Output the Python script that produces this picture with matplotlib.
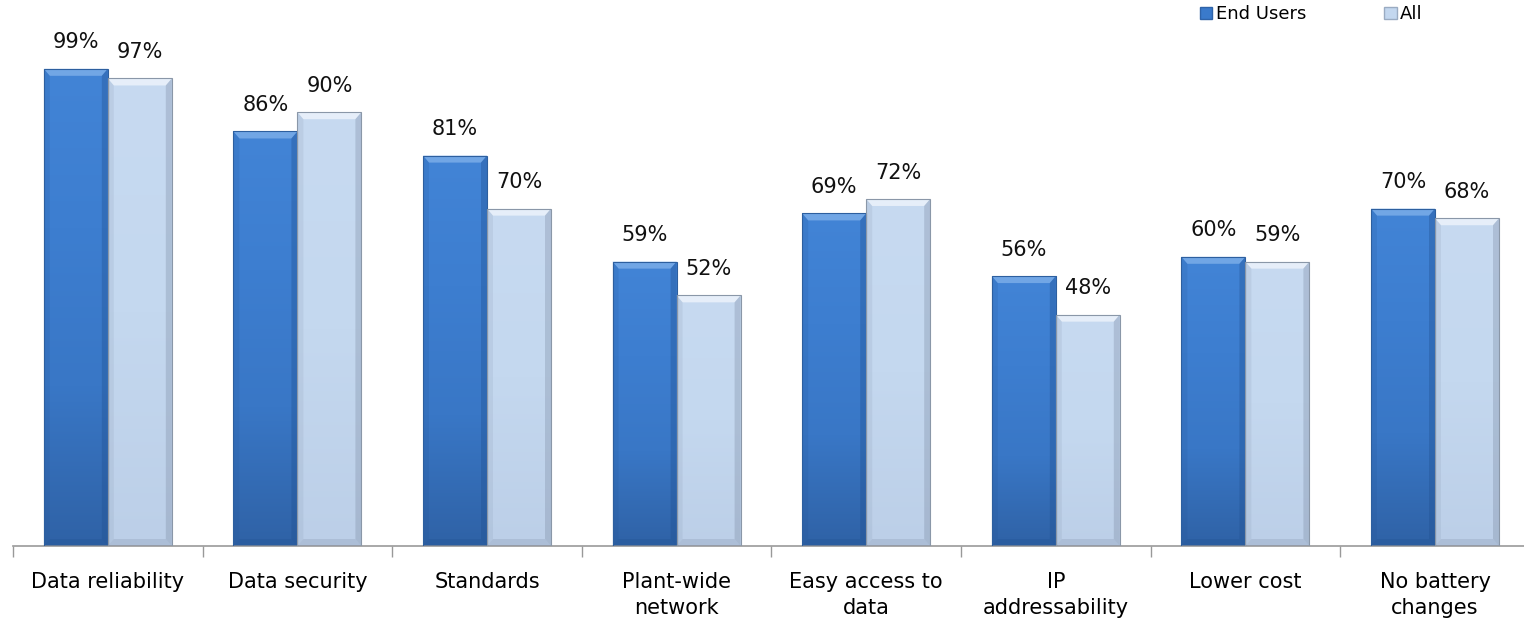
import numpy as np
import matplotlib.pyplot as plt
from matplotlib.patches import Patch, Polygon
from matplotlib.colors import LinearSegmentedColormap

categories = ["Data reliability", "Data security", "Standards", "Plant-wide\nnetwork",
              "Easy access to\ndata", "IP\naddressability", "Lower cost", "No battery\nchanges"]
end_users = [99, 86, 81, 59, 69, 56, 60, 70]
all_resp = [97, 90, 70, 52, 72, 48, 59, 68]

W, H = 1524, 624
fig = plt.figure(figsize=(W / 100, H / 100), dpi=100)
# axes: baseline at y=546px, 189.6px per category starting at x=13
ax = fig.add_axes([13 / W, (H - 546) / H, 8 * 189.6 / W, 546 / H])
ax.set_xlim(-0.5, 7.5)
ax.set_ylim(0, 546 / 4.82)

x = np.arange(len(categories))
bw = 64 / 189.6

dark_cmap = LinearSegmentedColormap.from_list("d", ["#2f62a6", "#3977c6", "#3d7ed0", "#4284d6"])
light_cmap = LinearSegmentedColormap.from_list("l", ["#bccfe8", "#c4d8ef", "#c7daf1"])

b1 = ax.bar(x - bw / 2, end_users, bw, color="none", edgecolor="none")
b2 = ax.bar(x + bw / 2, all_resp, bw, color="none", edgecolor="none")

grad = np.linspace(0, 1, 256).reshape(-1, 1)
bx = 6 / 189.6   # bevel width in data units
by = 7 / 4.82    # bevel height in data units


def shade(bars, cmap, hi, side, edge):
    for p in bars:
        x0, y0 = p.get_x(), p.get_y()
        w, h = p.get_width(), p.get_height()
        im = ax.imshow(grad, cmap=cmap, origin="lower", aspect="auto",
                       extent=[x0, x0 + w, y0, y0 + h], zorder=2)
        im.set_clip_path(p)
        # top bevel
        ax.add_patch(Polygon([[x0, h], [x0 + w, h], [x0 + w - bx, h - by], [x0 + bx, h - by]],
                             closed=True, facecolor=hi, edgecolor="none", alpha=0.7, zorder=3))
        # bottom bevel
        ax.add_patch(Polygon([[x0, 0], [x0 + w, 0], [x0 + w - bx, by], [x0 + bx, by]],
                             closed=True, facecolor=side, edgecolor="none", alpha=0.25, zorder=3))
        # side bevels
        ax.add_patch(Polygon([[x0 + w, h], [x0 + w, 0], [x0 + w - bx, by], [x0 + w - bx, h - by]],
                             closed=True, facecolor=side, edgecolor="none", alpha=0.35, zorder=3))
        ax.add_patch(Polygon([[x0, h], [x0, 0], [x0 + bx, by], [x0 + bx, h - by]],
                             closed=True, facecolor=side, edgecolor="none", alpha=0.15, zorder=3))
        ax.add_patch(plt.Rectangle((x0, 0), w, h, facecolor="none", edgecolor=edge,
                                   linewidth=0.8, zorder=4))


shade(b1, dark_cmap, "#86b5ec", "#1f4f8f", "#2d5f9f")
shade(b2, light_cmap, "#f4f8fd", "#7f8ea6", "#8a97a8")

for xi, v in zip(x, end_users):
    ax.text(xi - bw / 2, v + 3.4, f"{v}%", ha="center", va="bottom", fontsize=15, color="#111111")
for xi, v in zip(x, all_resp):
    ax.text(xi + bw / 2, v + 3.4, f"{v}%", ha="center", va="bottom", fontsize=15, color="#111111")

ax.set_xticks(x)
ax.set_xticklabels(categories, fontsize=15, linespacing=1.35)
ax.tick_params(axis="x", which="major", length=0, pad=19)
ax.set_xticks(np.arange(-0.5, 8, 1), minor=True)
ax.tick_params(axis="x", which="minor", length=8, color="#999999", width=1)
ax.set_yticks([])
for s in ["top", "right", "left"]:
    ax.spines[s].set_visible(False)
ax.spines["bottom"].set_color("#999999")
ax.spines["bottom"].set_linewidth(1.2)

handles = [Patch(facecolor="#3a7acb", edgecolor="#2f63a8", label="End Users"),
           Patch(facecolor="#c3d7ef", edgecolor="#9aabc2", label="All")]
fig.legend(handles=handles, loc="upper right", bbox_to_anchor=(1430 / W, 1.003),
           ncol=2, frameon=False, fontsize=13, handlelength=0.7, handleheight=0.7,
           handletextpad=0.2, columnspacing=4.3, borderaxespad=0)

fig.savefig("out.png", dpi=100)
